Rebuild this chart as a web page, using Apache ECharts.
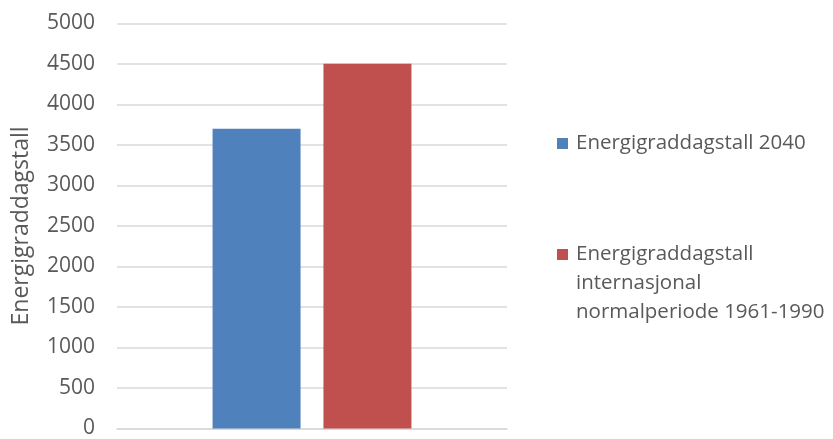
<!DOCTYPE html>
<html>
<head>
<meta charset="utf-8">
<script src="https://cdn.jsdelivr.net/npm/echarts@6/dist/echarts.min.js"></script>
<style>html,body{margin:0;padding:0;background:#fff}#c{width:833px;height:439px}</style>
</head>
<body>
<div id="c"></div>
<script>
const categories = [''];
const seriesNames = ['Energigraddagstall 2040', 'Energigraddagstall\ninternasjonal\nnormalperiode 1961-1990'];
const values2040 = [3700];
const valuesNormal = [4500];
const yTicks = { min: 0, max: 5000, interval: 500 };
const yAxisTitle = 'Energigraddagstall';

const FONT = 'Open Sans';
const chart = echarts.init(document.getElementById('c'), null, { renderer: 'canvas' });
chart.setOption({
  animation: false,
  backgroundColor: '#ffffff',
  grid: { left: 117, right: 326, top: 23.3, bottom: 6.3, containLabel: false },
  legend: {
    orient: 'vertical',
    left: 557,
    top: 129,
    padding: 0,
    itemWidth: 11,
    itemHeight: 11,
    itemGap: 24,
    icon: 'rect',
    selectedMode: false,
    data: [
      { name: seriesNames[0] },
      { name: seriesNames[1] }
    ],
    formatter: function (n) { return n === seriesNames[1] ? '\n\n' + n : n; },
    textStyle: { fontFamily: FONT, fontSize: 20.5, color: '#595959', lineHeight: 29, padding: [0, 0, 0, 3] }
  },
  xAxis: {
    type: 'category',
    data: categories,
    axisLine: { show: true, lineStyle: { color: '#d9d9d9', width: 1.5 } },
    axisTick: { show: false },
    axisLabel: { show: false },
    splitLine: { show: false }
  },
  yAxis: {
    type: 'value',
    min: yTicks.min,
    max: yTicks.max,
    interval: yTicks.interval,
    name: yAxisTitle,
    nameLocation: 'middle',
    nameGap: 84,
    nameTextStyle: { fontFamily: FONT, fontSize: 23, color: '#595959' },
    axisLine: { show: false },
    axisTick: { show: false },
    axisLabel: { fontFamily: FONT, fontSize: 21, color: '#595959', margin: 22, formatter: function (v) { return String(v); } },
    splitLine: { show: true, lineStyle: { color: '#d9d9d9', width: 1.5 } }
  },
  series: [
    {
      name: seriesNames[0],
      type: 'bar',
      data: values2040,
      barWidth: 88,
      barGap: '26%',
      itemStyle: { color: '#4F81BD' }
    },
    {
      name: seriesNames[1],
      type: 'bar',
      data: valuesNormal,
      barWidth: 88,
      barGap: '26%',
      itemStyle: { color: '#C0504D' }
    }
  ]
});
</script>
</body>
</html>
